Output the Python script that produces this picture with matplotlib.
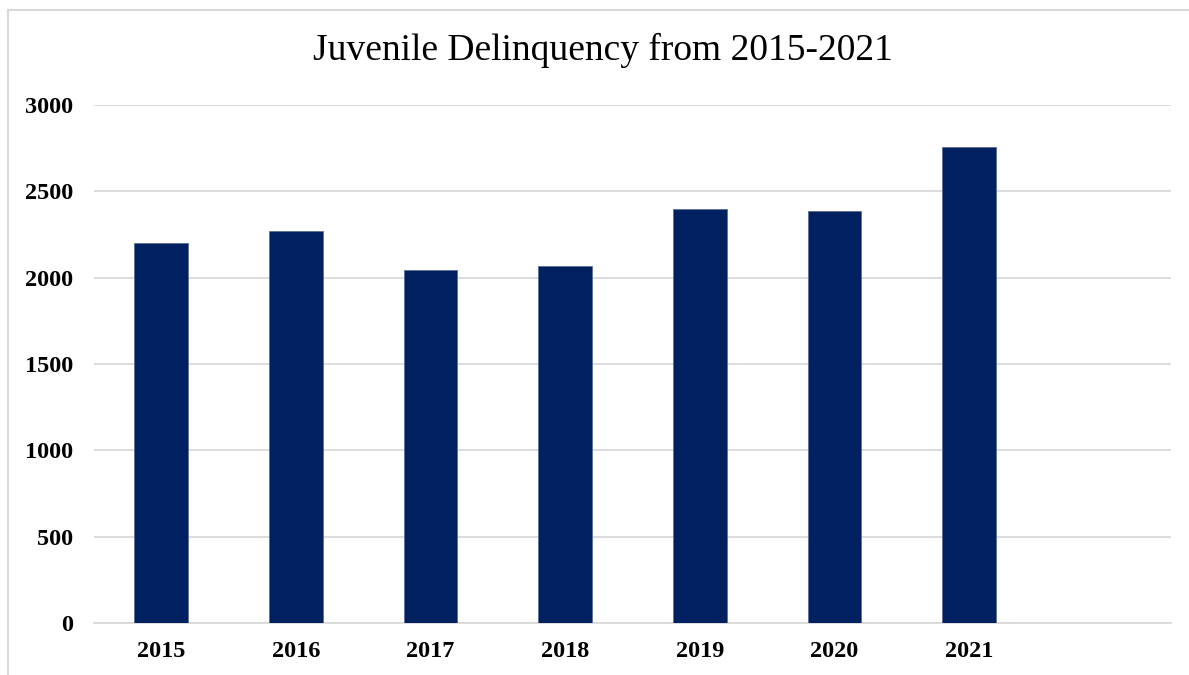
import matplotlib.pyplot as plt
from matplotlib.lines import Line2D

# values per year
years = ["2015", "2016", "2017", "2018", "2019", "2020", "2021", ""]
cases = [2200, 2270, 2045, 2065, 2395, 2385, 2755, 0]
yticks = [0, 500, 1000, 1500, 2000, 2500, 3000]

bar_color = "#002060"
grid_color = "#d9d9d9"

plt.rcParams["font.family"] = ["Liberation Serif", "DejaVu Serif"]

fig = plt.figure(figsize=(11.89, 6.75), dpi=100)
ax = fig.add_axes([94 / 1189, 1 - 623 / 675, 1077 / 1189, 518 / 675])

x = list(range(len(years)))
ax.bar(x[:7], cases[:7], width=0.4, color=bar_color, edgecolor="#5a6f9c",
       linewidth=0.6, zorder=3)

ax.set_xlim(-0.5, len(years) - 0.5)
ax.set_ylim(0, 3000)
ax.set_yticks(yticks)
ax.set_yticklabels([str(v) for v in yticks], fontsize=17.5, fontweight="bold")
ax.set_xticks(x)
ax.set_xticklabels(years, fontsize=17.5, fontweight="bold")
ax.tick_params(axis="both", length=0)
ax.tick_params(axis="y", pad=15)
ax.tick_params(axis="x", pad=13)

ax.grid(axis="y", color=grid_color, linewidth=1.3, zorder=0)
for s in ["top", "right", "left"]:
    ax.spines[s].set_visible(False)
ax.spines["bottom"].set_color(grid_color)
ax.spines["bottom"].set_linewidth(1.3)

fig.text(603 / 1189, 1 - 60 / 675, "Juvenile Delinquency from 2015-2021",
         ha="center", va="baseline", fontsize=27)

# outer chart frame (top and left edges)
bx, by = 8 / 1189, 1 - 9.5 / 675
fig.add_artist(Line2D([bx, 1.0], [by, by], color=grid_color, linewidth=1.5))
fig.add_artist(Line2D([bx, bx], [0.0, by], color=grid_color, linewidth=1.5))

fig.savefig("out.png", dpi=100)
